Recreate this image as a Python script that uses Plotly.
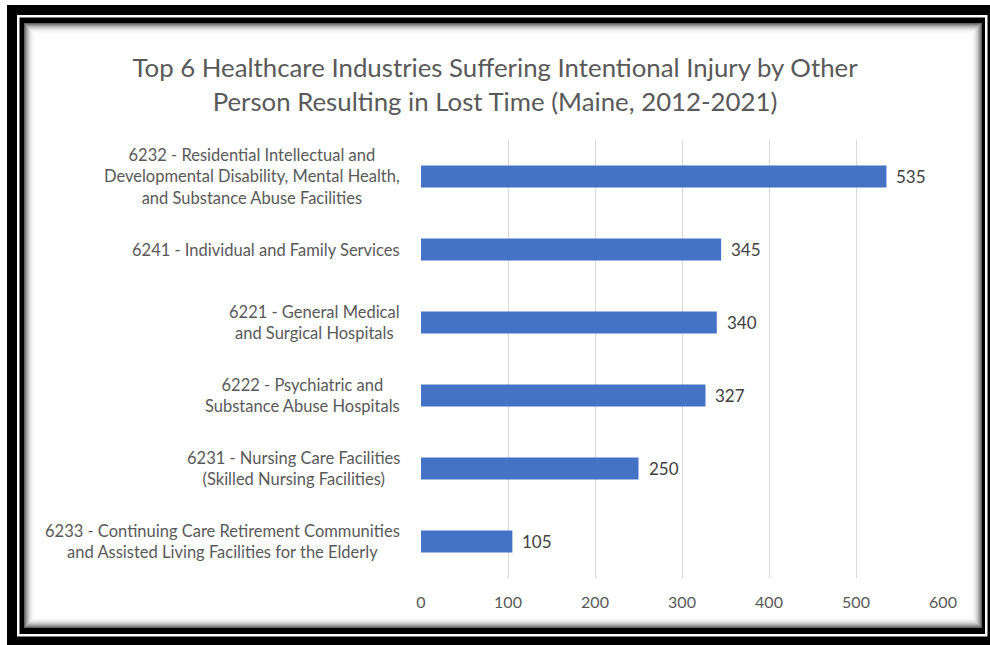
import plotly.graph_objects as go

categories = [
    "6232 - Residential Intellectual and<br>Developmental Disability, Mental Health,<br>and Substance Abuse Facilities",
    "6241 - Individual and Family Services",
    "6221 - General Medical<br>and Surgical Hospitals",
    "6222 - Psychiatric and<br>Substance Abuse Hospitals",
    "6231 - Nursing Care Facilities<br>(Skilled Nursing Facilities)",
    "6233 - Continuing Care Retirement Communities<br>and Assisted Living Facilities for the Elderly",
]
values = [535, 345, 340, 327, 250, 105]
tick_vals = [0, 100, 200, 300, 400, 500, 600]
title_text = ("Top 6 Healthcare Industries Suffering Intentional Injury by Other<br>"
              "Person Resulting in Lost Time (Maine, 2012-2021)")

W, H = 990, 645
ML, MR, MT, MB = 421, 47, 140, 67
PW, PH = W - ML - MR, H - MT - MB

FONT = "Lato"
GRAY = "#595959"


def px(x):
    return (x - ML) / PW


def py(y):
    return 1 - (y - MT) / PH


fig = go.Figure()
fig.add_trace(go.Bar(
    x=values, y=categories, orientation="h",
    marker=dict(color="#4472C4", line=dict(width=0)),
    hoverinfo="x+y",
))

shapes = []


def rect(x0, y0, x1, y1, color):
    shapes.append(dict(type="rect", xref="paper", yref="paper",
                       x0=px(x0), x1=px(x1), y0=py(y1), y1=py(y0),
                       fillcolor=color, line=dict(width=0), layer="below"))


rect(7, 5, 1005, 665, "#000000")
rect(17, 15, 987.5, 636.5, "#ffffff")
rect(19.5, 17.5, 985, 634, "#000000")
# inner shadow gradient
grad = [100, 128, 155, 178, 198, 214, 228, 238, 245, 250, 253, 255]
for k, g in enumerate(grad):
    c = "rgb(%d,%d,%d)" % (g, g, g)
    rect(24 + k, 23 + k, 982 - k, 628 - k, c)

annotations = []
for cat in categories:
    annotations.append(dict(
        x=0, xref="paper", y=cat, yref="y", text=cat, showarrow=False,
        xanchor="right", yanchor="middle", align="center", xshift=-19,
        font=dict(family=FONT, size=16.5, color=GRAY)))
for cat, v in zip(categories, values):
    annotations.append(dict(
        x=v, xref="x", y=cat, yref="y", text=str(v), showarrow=False,
        xanchor="left", yanchor="middle", xshift=8,
        font=dict(family=FONT, size=17, color="#404040")))

fig.update_layout(
    width=W, height=H,
    margin=dict(l=ML, r=MR, t=MT, b=MB, pad=0),
    paper_bgcolor="#ffffff", plot_bgcolor="rgba(0,0,0,0)",
    showlegend=False,
    bargap=0.70,
    title=dict(text=title_text, x=0.5, xref="container", xanchor="center",
               y=1 - 77 / H, yref="container", yanchor="middle",
               font=dict(family=FONT, size=25.8, color=GRAY)),
    xaxis=dict(range=[0, 600], tickvals=tick_vals, showgrid=True,
               gridcolor="#d9d9d9", gridwidth=1, zeroline=False,
               showline=False, ticks="", ticklabelstandoff=13,
               tickfont=dict(family=FONT, size=16, color=GRAY)),
    yaxis=dict(autorange="reversed", showticklabels=False, showgrid=False,
               zeroline=False, showline=False, ticks=""),
    shapes=shapes,
    annotations=annotations,
    font=dict(family=FONT),
)

fig.write_html("out.html")
